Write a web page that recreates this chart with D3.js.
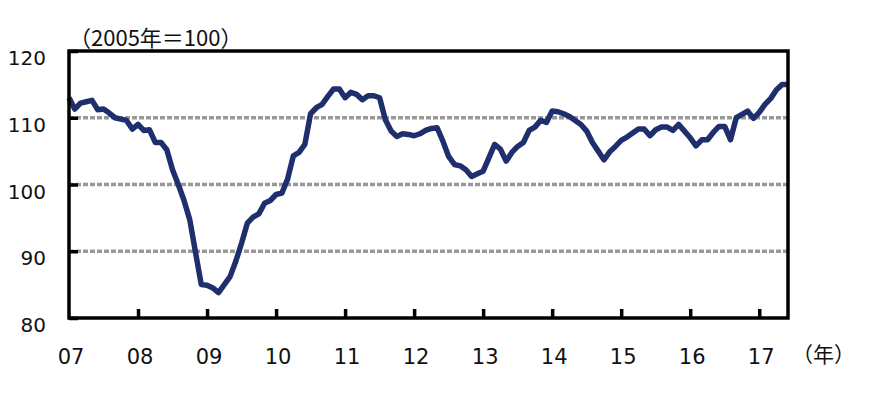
<!DOCTYPE html>
<html>
<head>
<meta charset="utf-8">
<script src="https://cdn.jsdelivr.net/npm/d3@7"></script>
<style>
  body { margin: 0; background: #fff; }
  #chart text { fill: #111; }
</style>
</head>
<body>
<div id="chart"></div>
<script>
// monthly index, Jan 2007 .. Jun 2017 (2005 = 100)
const values = [
  113.0, 111.3, 112.2, 112.4, 112.6, 111.2, 111.3, 110.7, 110.0, 109.8, 109.6, 108.3,
  109.0, 108.1, 108.2, 106.3, 106.3, 105.2, 102.2, 100.0, 97.6, 94.7, 89.8, 85.0,
  84.9, 84.5, 83.8, 85.0, 86.2, 88.5, 91.2, 94.2, 95.1, 95.6, 97.2, 97.6,
  98.5, 98.7, 100.8, 104.3, 104.8, 106.0, 110.6, 111.5, 112.0, 113.2, 114.3, 114.3,
  113.0, 113.8, 113.5, 112.7, 113.3, 113.3, 113.0, 109.7, 108.0, 107.2, 107.6, 107.5,
  107.3, 107.6, 108.1, 108.4, 108.5, 106.5, 104.2, 103.0, 102.8, 102.2, 101.2, 101.6,
  102.0, 104.0, 106.0, 105.3, 103.5, 104.8, 105.7, 106.3, 108.1, 108.6, 109.6, 109.3,
  111.0, 110.9, 110.6, 110.2, 109.6, 109.0, 108.0, 106.3, 105.0, 103.7, 104.9, 105.7,
  106.6, 107.1, 107.7, 108.3, 108.3, 107.3, 108.2, 108.6, 108.6, 108.1, 109.0, 108.0,
  107.0, 105.8, 106.7, 106.7, 107.8, 108.7, 108.7, 106.7, 110.0, 110.5, 111.0, 109.9,
  110.8, 112.0, 112.9, 114.2, 115.0, 115.0
];
const yearLabels = ["07", "08", "09", "10", "11", "12", "13", "14", "15", "16", "17"];
const yTicks = [80, 90, 100, 110, 120];
const gridValues = [90, 100, 110];

const margin = {top: 51, right: 82, bottom: 79, left: 69},
      width = 870 - margin.left - margin.right,
      height = 397 - margin.top - margin.bottom;

const svg = d3.select("#chart").append("svg")
    .attr("width", 870)
    .attr("height", 397)
    .append("g")
    .attr("transform", "translate(" + margin.left + "," + margin.top + ")");

const xScale = d3.scaleLinear().domain([0, values.length - 1]).range([0, width]);
const yScale = d3.scaleLinear().domain([80, 120]).range([height, 0]);

// dashed grid lines
svg.selectAll(".grid")
    .data(gridValues)
    .enter().append("line")
    .attr("class", "grid")
    .attr("x1", 0).attr("x2", width)
    .attr("y1", d => yScale(d)).attr("y2", d => yScale(d))
    .attr("stroke", "#999")
    .attr("stroke-width", 3.5)
    .attr("stroke-dasharray", "5,2");

// the series
const line = d3.line()
    .x((d, i) => xScale(i))
    .y(d => yScale(d));

svg.append("path")
    .datum(values)
    .attr("fill", "none")
    .attr("stroke", "#1f2f6e")
    .attr("stroke-width", 5.5)
    .attr("stroke-linejoin", "round")
    .attr("d", line);

// frame
svg.append("rect")
    .attr("width", width).attr("height", height)
    .attr("fill", "none")
    .attr("stroke", "#000")
    .attr("stroke-width", 3.5);

// left ticks (inward) and labels
const yAxis = svg.append("g")
    .call(d3.axisRight(yScale).tickValues(yTicks).tickSize(9).tickFormat(""));
yAxis.select(".domain").remove();
yAxis.selectAll(".tick line").attr("stroke", "#000").attr("stroke-width", 3.5);

svg.selectAll(".ylab")
    .data(yTicks)
    .enter().append("text")
    .attr("class", "ylab")
    .attr("x", -23)
    .attr("y", d => yScale(d) + 14)
    .attr("text-anchor", "end")
    .style("font-family", "'DejaVu Sans', sans-serif")
    .style("font-size", "20px")
    .text(d => d);

// bottom ticks (inward) and labels
const yearIdx = yearLabels.map((d, i) => i * 12);
const xAxis = svg.append("g")
    .attr("transform", "translate(0," + height + ")")
    .call(d3.axisTop(xScale).tickValues(yearIdx.slice(1)).tickSize(9).tickFormat(""));
xAxis.select(".domain").remove();
xAxis.selectAll(".tick line").attr("stroke", "#000").attr("stroke-width", 3.5);

svg.selectAll(".xlab")
    .data(yearLabels)
    .enter().append("text")
    .attr("class", "xlab")
    .attr("x", (d, i) => xScale(yearIdx[i]) + 2)
    .attr("y", height + 46)
    .attr("text-anchor", "middle")
    .style("font-family", "'DejaVu Sans', sans-serif")
    .style("font-size", "21px")
    .text(d => d);

// unit labels
svg.append("text")
    .attr("x", 0)
    .attr("y", -5)
    .style("font-family", "'Noto Sans CJK JP', sans-serif")
    .style("font-size", "22px")
    .text("（2005年＝100）");

svg.append("text")
    .attr("x", width + 4)
    .attr("y", height + 44)
    .style("font-family", "'Noto Sans CJK JP', sans-serif")
    .style("font-size", "21px")
    .text("（年）");
</script>
</body>
</html>
